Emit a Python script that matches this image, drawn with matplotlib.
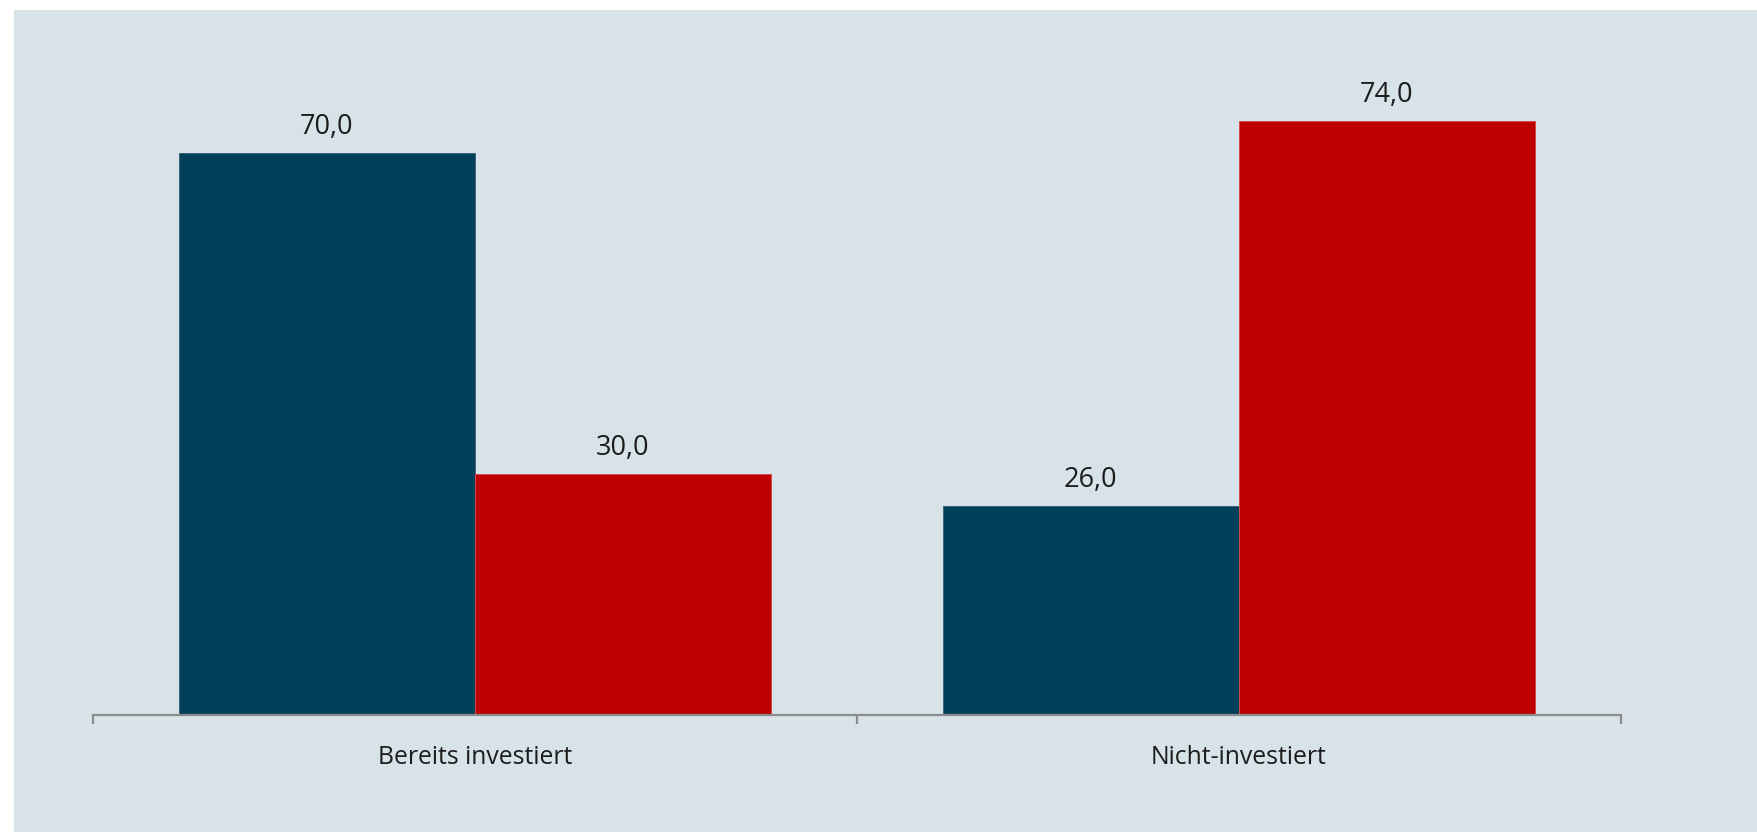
import numpy as np
import matplotlib.pyplot as plt
from matplotlib.patches import Rectangle
from matplotlib.transforms import blended_transform_factory

plt.rcParams['font.family'] = ['Open Sans', 'DejaVu Sans']

categories = ['Bereits investiert', 'Nicht-investiert']
series_a = [70.0, 26.0]
series_b = [30.0, 74.0]

dark_blue = '#004059'
red = '#bd0000'
panel = '#d8e2e9'
axis_grey = '#8c8c8c'
text_col = '#1c1c1c'

fig = plt.figure(figsize=(17.57, 8.32), dpi=100)
fig.patch.set_facecolor('white')
fig.patches.append(Rectangle((14 / 1757, 0), 1, 822 / 832, transform=fig.transFigure,
                             facecolor=panel, edgecolor='none', zorder=-10))

ax = fig.add_axes([92.7 / 1757, 1 - 714.7 / 832, 1528 / 1757, 642 / 832])
ax.set_facecolor('none')

x = np.arange(len(categories)) + 0.5
w = 0.3875
bars_a = ax.bar(x - w / 2, series_a, w, color=dark_blue, edgecolor='#3d6478', linewidth=0.7)
bars_b = ax.bar(x + w / 2, series_b, w, color=red, edgecolor='#d24a4a', linewidth=0.7)

# value labels above each bar, German decimal comma
for bars, vals in ((bars_a, series_a), (bars_b, series_b)):
    for b, v in zip(bars, vals):
        ax.annotate(f'{v:.1f}'.replace('.', ','), (b.get_x() + b.get_width() / 2, v),
                    xytext=(0, 13.5), textcoords='offset points', ha='center',
                    va='baseline', fontsize=19.5, color=text_col)

ax.set_xlim(0, 2)
ax.set_ylim(0, 80)
ax.set_yticks([])
for s in ('left', 'right', 'top'):
    ax.spines[s].set_visible(False)
ax.spines['bottom'].set_color(axis_grey)
ax.spines['bottom'].set_linewidth(1.6)

# category separators as minor ticks, labels centred under each group
ax.set_xticks([0, 1, 2], minor=True)
ax.set_xticks(x, [])
ax.tick_params(axis='x', which='minor', length=6.5, width=1.6, color=axis_grey, direction='out')
ax.tick_params(axis='x', which='major', length=0)

tr = blended_transform_factory(ax.transData, ax.transAxes)
for xi, name in zip(x, categories):
    ax.annotate(name, (xi, 0), xycoords=tr, xytext=(0, -35.7), textcoords='offset points',
                ha='center', va='baseline', fontsize=17.8, color=text_col)

fig.savefig('out.png', dpi=100, facecolor='white')
